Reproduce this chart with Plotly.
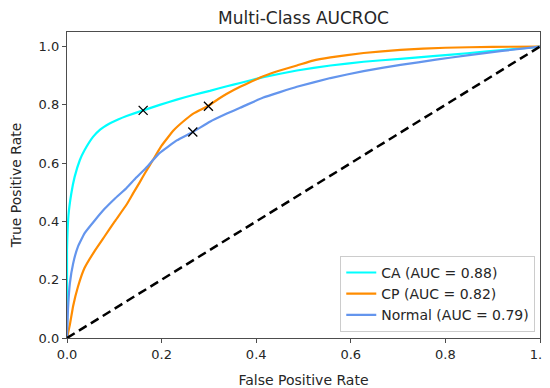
import plotly.graph_objects as go

# ROC curve samples
ca_fpr = [0, 0, 0.003, 0.009, 0.016, 0.027, 0.037, 0.055, 0.07, 0.09, 0.108, 0.126, 0.161, 0.196, 0.232,
          0.267, 0.302, 0.338, 0.366, 0.415, 0.486, 0.557, 0.627, 0.705, 0.78, 0.846, 0.92, 1.0]
ca_tpr = [0, 0.30, 0.42, 0.495, 0.552, 0.61, 0.644, 0.69, 0.715, 0.736, 0.75, 0.762, 0.781, 0.80, 0.818,
          0.834, 0.848, 0.864, 0.875, 0.895, 0.918, 0.935, 0.948, 0.958, 0.968, 0.977, 0.988, 1.0]

cp_fpr = [0, 0.006, 0.013, 0.023, 0.037, 0.059, 0.08, 0.101, 0.126, 0.14, 0.154, 0.165, 0.182, 0.2, 0.225,
          0.245, 0.267, 0.299, 0.32, 0.338, 0.366, 0.39, 0.415, 0.45, 0.486, 0.52, 0.557, 0.627, 0.705,
          0.8, 0.9, 1.0]
cp_tpr = [0, 0.045, 0.11, 0.175, 0.24, 0.30, 0.35, 0.40, 0.458, 0.497, 0.535, 0.566, 0.612, 0.66, 0.712,
          0.742, 0.77, 0.797, 0.82, 0.838, 0.862, 0.88, 0.898, 0.918, 0.935, 0.952, 0.963, 0.978, 0.989,
          0.996, 0.999, 1.0]

nm_fpr = [0, 0.002, 0.006, 0.013, 0.023, 0.037, 0.059, 0.08, 0.101, 0.126, 0.145, 0.165, 0.196, 0.232,
          0.266, 0.302, 0.338, 0.366, 0.415, 0.486, 0.557, 0.627, 0.705, 0.78, 0.846, 0.92, 1.0]
nm_tpr = [0, 0.096, 0.187, 0.256, 0.313, 0.359, 0.404, 0.444, 0.478, 0.515, 0.548, 0.58, 0.635, 0.678,
          0.707, 0.742, 0.77, 0.79, 0.825, 0.862, 0.892, 0.916, 0.937, 0.955, 0.97, 0.985, 1.0]

labels = ["CA (AUC = 0.88)", "CP (AUC = 0.82)", "Normal (AUC = 0.79)"]
colors = ["#00FFFF", "#FF8C00", "#6495ED"]

# operating points (x markers)
op_fpr = [0.161, 0.299, 0.266]
op_tpr = [0.781, 0.795, 0.707]

chance = [0, 1]

FONT = "DejaVu Sans"
TXT = "#262626"

fig = go.Figure()
for fx, ty, lab, col in zip([ca_fpr, cp_fpr, nm_fpr], [ca_tpr, cp_tpr, nm_tpr], labels, colors):
    fig.add_trace(go.Scatter(x=fx, y=ty, mode="lines", name=lab,
                             line=dict(color=col, width=2.2, shape="spline", smoothing=0.3)))

fig.add_trace(go.Scatter(x=chance, y=chance, mode="lines", showlegend=False,
                         line=dict(color="black", width=2.5, dash="9px,5px")))

fig.add_trace(go.Scatter(x=op_fpr, y=op_tpr, mode="markers", showlegend=False,
                         marker=dict(symbol="x-thin", size=9, color="black",
                                     line=dict(color="black", width=1.3))))

axis_common = dict(showgrid=False, zeroline=False, showline=True, mirror=True, automargin=False,
                   linecolor="#4d4d4d", linewidth=1.3, ticks="outside", ticklen=4,
                   tickcolor="#4d4d4d", tickfont=dict(family=FONT, size=13, color=TXT),
                   ticklabeloverflow="allow",
                   tickvals=[0, 0.2, 0.4, 0.6, 0.8, 1.0],
                   ticktext=["0.0", "0.2", "0.4", "0.6", "0.8", "1.0"])

# page body adds an 8px offset; figure sized to fit the 550x388 window
fig.update_layout(
    width=542, height=380,
    margin=dict(l=59, r=10, t=24, b=50, autoexpand=False),
    paper_bgcolor="white", plot_bgcolor="white",
    title=dict(text="Multi-Class AUCROC", x=0.5, xref="paper", xanchor="center",
               y=1 - 10 / 380, yref="container", yanchor="middle",
               font=dict(family=FONT, size=17, color=TXT)),
    xaxis=dict(range=[0, 1.0], title=dict(text="False Positive Rate",
                                          font=dict(family=FONT, size=14, color=TXT)),
               **axis_common),
    yaxis=dict(range=[0, 1.05], title=dict(text="True Positive Rate",
                                           font=dict(family=FONT, size=14, color=TXT)),
               **axis_common),
    legend=dict(x=0.99, y=0.02, xanchor="right", yanchor="bottom",
                bgcolor="rgba(255,255,255,0.85)", bordercolor="#cccccc", borderwidth=1,
                font=dict(family=FONT, size=14, color=TXT), tracegroupgap=0,
                itemwidth=30),
)

fig.write_html("out.html")
